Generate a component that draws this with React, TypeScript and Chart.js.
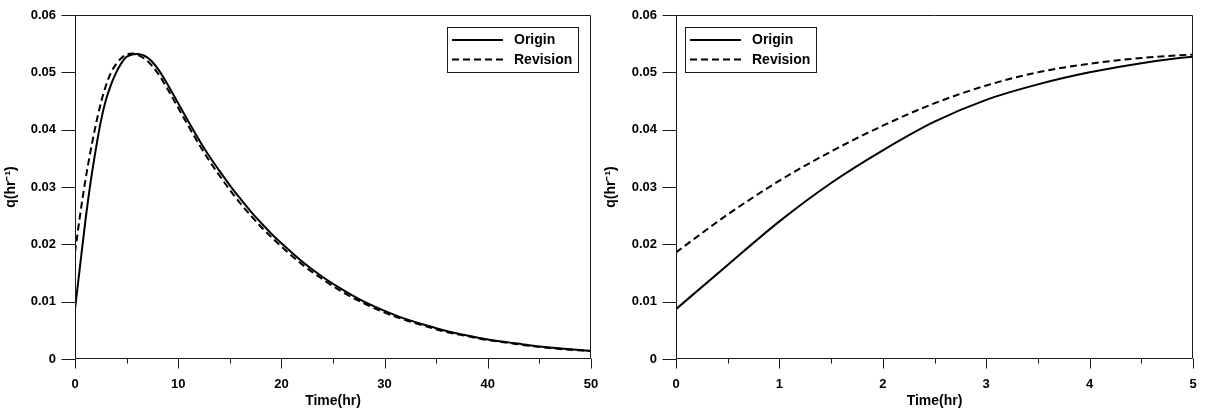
import React, { useEffect, useRef } from 'react';
import { Chart, registerables } from 'chart.js';

Chart.register(...registerables);

const FONT = "'Liberation Sans', Arial, Helvetica, sans-serif";

// Time samples (hr)
const times = [0, 0.5, 1, 1.5, 2, 2.5, 3, 3.5, 4, 4.5, 5, 5.5, 6, 7, 8, 9, 10, 11, 12, 13, 14, 15, 16, 17, 18, 19, 20, 22, 24, 26, 28, 30, 32, 34, 36, 38, 40, 42, 44, 46, 48, 50];

// q(hr^-1) – Origin
const originValues = [0.0087, 0.0164, 0.0240, 0.0307, 0.0364, 0.0414, 0.0452, 0.0479, 0.0500, 0.0516, 0.0527, 0.0531, 0.0532, 0.0526, 0.0507, 0.0478, 0.0446, 0.0414, 0.0383, 0.0354, 0.0328, 0.0303, 0.0280, 0.0258, 0.0238, 0.0219, 0.0202, 0.0170, 0.0143, 0.0120, 0.0100, 0.0084, 0.0070, 0.0059, 0.0049, 0.0041, 0.0034, 0.0029, 0.0024, 0.0020, 0.0017, 0.0014];

// q(hr^-1) – Revision
const revisionValues = [0.0186, 0.0252, 0.0311, 0.0362, 0.0407, 0.0446, 0.0477, 0.0500, 0.0515, 0.0525, 0.0531, 0.0533, 0.0531, 0.0520, 0.0499, 0.0470, 0.0438, 0.0406, 0.0375, 0.0346, 0.0320, 0.0295, 0.0272, 0.0251, 0.0231, 0.0213, 0.0196, 0.0165, 0.0139, 0.0116, 0.0097, 0.0081, 0.0068, 0.0057, 0.0047, 0.0040, 0.0033, 0.0028, 0.0023, 0.0019, 0.0016, 0.0014];

const seriesNames = ['Origin', 'Revision'];

const yTicks = [0, 0.01, 0.02, 0.03, 0.04, 0.05, 0.06];
const yTickLabels = ['0', '0.01', '0.02', '0.03', '0.04', '0.05', '0.06'];

const leftXTicks = [0, 10, 20, 30, 40, 50];
const leftXTickLabels = ['0', '10', '20', '30', '40', '50'];
const leftXMinor = [5, 15, 25, 35, 45];

const rightXTicks = [0, 1, 2, 3, 4, 5];
const rightXTickLabels = ['0', '1', '2', '3', '4', '5'];
const rightXMinor = [0.5, 1.5, 2.5, 3.5, 4.5];

const xTitle = 'Time(hr)';
const yTitle = 'q(hr\u207B\u00B9)';

const INK = '#1a1a1a';

const frameTicksPlugin = {
  id: 'frameTicks',
  afterDraw(chart: any, _args: any, opts: any) {
    const { ctx, chartArea: a, scales } = chart;
    const xs = scales.x;
    const ys = scales.y;
    const L = Math.round(a.left) + 0.5;
    const R = Math.round(a.right) - 0.5;
    const T = Math.round(a.top) + 0.5;
    const B = Math.round(a.bottom) - 0.5;
    ctx.save();
    ctx.strokeStyle = INK;
    ctx.lineWidth = 1;
    ctx.beginPath();
    ctx.moveTo(L, T);
    ctx.lineTo(R, T);
    ctx.lineTo(R, B);
    ctx.lineTo(L, B);
    ctx.closePath();
    for (const v of opts.yMajor) {
      const py = Math.round(ys.getPixelForValue(v)) + 0.5;
      ctx.moveTo(L - 14, py);
      ctx.lineTo(L, py);
    }
    for (const v of opts.xMajor) {
      const px = Math.round(xs.getPixelForValue(v)) + 0.5;
      ctx.moveTo(px, B);
      ctx.lineTo(px, B + 10);
    }
    for (const v of opts.xMinor) {
      const px = Math.round(xs.getPixelForValue(v)) + 0.5;
      ctx.moveTo(px, B);
      ctx.lineTo(px, B + 5);
    }
    ctx.stroke();

    // legend box
    const boxW = 131;
    const boxH = 45;
    const bx = opts.side === 'right' ? Math.round(a.right) - 13 - boxW : Math.round(a.left) + 9;
    const by = Math.round(a.top) + 12;
    ctx.fillStyle = '#fff';
    ctx.fillRect(bx, by, boxW, boxH);
    ctx.strokeStyle = INK;
    ctx.lineWidth = 1;
    ctx.strokeRect(bx + 0.5, by + 0.5, boxW, boxH);

    const ds = chart.data.datasets;
    const rows = [by + 13, by + 32.5];
    ctx.font = `bold 14px ${FONT}`;
    ctx.textBaseline = 'middle';
    ctx.textAlign = 'left';
    ctx.fillStyle = '#000';
    ds.forEach((d: any, i: number) => {
      const ly = rows[i];
      ctx.beginPath();
      ctx.strokeStyle = '#000';
      ctx.lineWidth = 2;
      ctx.setLineDash(d.borderDash || []);
      ctx.moveTo(bx + 5, ly);
      ctx.lineTo(bx + 56, ly);
      ctx.stroke();
      ctx.setLineDash([]);
      ctx.fillText(d.label, bx + 67, ly + 0.5);
    });
    ctx.restore();
  },
};

function buildConfig(p: {
  xMax: number;
  xTicks: number[];
  xTickLabels: string[];
  xMinor: number[];
  yWidth: number;
  padRight: number;
  side: 'left' | 'right';
  tMax: number;
}) {
  const pts = (vals: number[]) =>
    times.map((t, i) => ({ x: t, y: vals[i] })).filter((d) => d.x <= p.tMax);
  return {
    type: 'line' as const,
    data: {
      datasets: [
        {
          label: seriesNames[0],
          data: pts(originValues),
          borderColor: '#000',
          borderWidth: 2,
          pointRadius: 0,
          fill: false,
          cubicInterpolationMode: 'monotone' as const,
        },
        {
          label: seriesNames[1],
          data: pts(revisionValues),
          borderColor: '#000',
          borderWidth: 2,
          borderDash: [7, 4],
          pointRadius: 0,
          fill: false,
          cubicInterpolationMode: 'monotone' as const,
        },
      ],
    },
    options: {
      responsive: false,
      animation: false as const,
      devicePixelRatio: 1,
      layout: { padding: { left: 0, right: p.padRight, top: 15, bottom: 0 } },
      plugins: {
        legend: { display: false },
        tooltip: { enabled: false },
        frameTicks: { side: p.side, xMajor: p.xTicks, xMinor: p.xMinor, yMajor: yTicks },
      },
      scales: {
        x: {
          type: 'linear' as const,
          min: 0,
          max: p.xMax,
          grid: { display: true, drawOnChartArea: false, drawTicks: false },
          border: { display: false },
          afterBuildTicks: (s: any) => {
            s.ticks = p.xTicks.map((v) => ({ value: v }));
          },
          afterFit: (s: any) => {
            s.height = 52;
            s.paddingLeft = 0;
            s.paddingRight = 0;
            s.paddingTop = 0;
            s.paddingBottom = 0;
          },
          ticks: {
            padding: 18,
            color: '#000',
            autoSkip: false,
            maxRotation: 0,
            font: { family: FONT, size: 13, weight: 'bold' as const },
            callback: (_v: any, i: number) => p.xTickLabels[i],
          },
          title: {
            display: true,
            text: xTitle,
            color: '#000',
            font: { family: FONT, size: 14, weight: 'bold' as const },
            padding: { top: 0, bottom: 1 },
          },
        },
        y: {
          type: 'linear' as const,
          min: 0,
          max: 0.06,
          grid: { display: true, drawOnChartArea: false, drawTicks: false },
          border: { display: false },
          afterBuildTicks: (s: any) => {
            s.ticks = yTicks.map((v) => ({ value: v }));
          },
          afterFit: (s: any) => {
            s.width = p.yWidth;
            s.paddingLeft = 0;
            s.paddingRight = 0;
            s.paddingTop = 0;
            s.paddingBottom = 0;
          },
          ticks: {
            padding: 19,
            color: '#000',
            autoSkip: false,
            font: { family: FONT, size: 13, weight: 'bold' as const },
            callback: (_v: any, i: number) => yTickLabels[i],
          },
          title: {
            display: true,
            text: yTitle,
            color: '#000',
            font: { family: FONT, size: 14, weight: 'bold' as const },
            padding: { top: 3, bottom: 0 },
          },
        },
      },
    },
    plugins: [frameTicksPlugin],
  };
}

function Panel(props: { left: number; width: number; config: any }) {
  const ref = useRef<HTMLCanvasElement>(null);
  useEffect(() => {
    if (!ref.current) return;
    const chart = new Chart(ref.current, props.config);
    return () => chart.destroy();
  }, []);
  return (
    <canvas
      ref={ref}
      width={props.width}
      height={411}
      style={{ position: 'absolute', left: props.left, top: 0, width: props.width, height: 411 }}
    />
  );
}

export default function App() {
  const leftCfg = buildConfig({
    xMax: 50,
    xTicks: leftXTicks,
    xTickLabels: leftXTickLabels,
    xMinor: leftXMinor,
    yWidth: 75,
    padRight: 9,
    side: 'right',
    tMax: 50,
  });
  const rightCfg = buildConfig({
    xMax: 5,
    xTicks: rightXTicks,
    xTickLabels: rightXTickLabels,
    xMinor: rightXMinor,
    yWidth: 76,
    padRight: 12,
    side: 'left',
    tMax: 6,
  });
  return (
    <div style={{ position: 'fixed', left: 0, top: 0, width: 1205, height: 411, background: '#fff' }}>
      <Panel left={0} width={600} config={leftCfg} />
      <Panel left={600} width={605} config={rightCfg} />
    </div>
  );
}
